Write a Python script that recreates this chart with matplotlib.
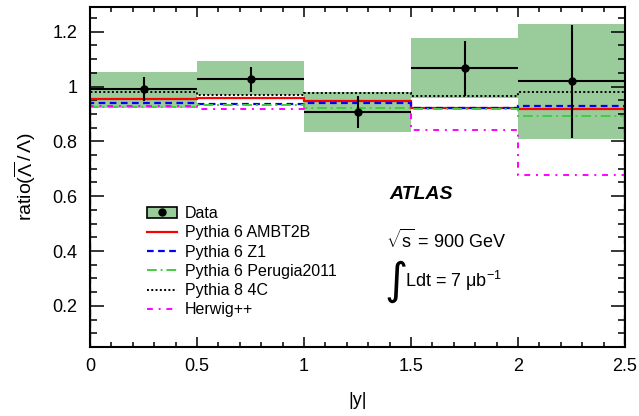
import matplotlib
matplotlib.use("Agg")
import matplotlib.pyplot as plt
from matplotlib.patches import Patch
from matplotlib.lines import Line2D
from matplotlib.ticker import MultipleLocator

plt.rcParams['font.family'] = ['Liberation Sans', 'DejaVu Sans']
plt.rcParams['mathtext.fontset'] = 'custom'
plt.rcParams['mathtext.rm'] = 'Liberation Sans'
plt.rcParams['mathtext.it'] = 'Liberation Sans:italic'
plt.rcParams['mathtext.default'] = 'regular'

# ---- data ----
bin_edges = [0.0, 0.5, 1.0, 1.5, 2.0, 2.5]
bin_centers = [0.25, 0.75, 1.25, 1.75, 2.25]
data_ratio = [0.990, 1.026, 0.908, 1.066, 1.019]
stat_err = [0.044, 0.047, 0.059, 0.100, 0.205]
syst_lo = [0.920, 0.969, 0.835, 0.957, 0.808]
syst_hi = [1.052, 1.093, 0.981, 1.178, 1.228]

pythia6_ambt2b = [0.954, 0.957, 0.948, 0.923, 0.919]
pythia6_z1 = [0.941, 0.936, 0.941, 0.920, 0.928]
pythia6_perugia2011 = [0.926, 0.933, 0.920, 0.918, 0.891]
pythia8_4c = [0.981, 0.969, 0.977, 0.965, 0.979]
herwigpp = [0.929, 0.918, 0.906, 0.842, 0.678]

labels = ["Data", "Pythia 6 AMBT2B", "Pythia 6 Z1", "Pythia 6 Perugia2011",
          "Pythia 8 4C", "Herwig++"]

band_color = '#9acb9a'

fig = plt.figure(figsize=(6.39, 4.16), dpi=100)
ax = fig.add_axes([90/639, 69/416, 535/639, 340/416])

# systematic boxes
widths = [bin_edges[i+1] - bin_edges[i] for i in range(len(bin_centers))]
heights = [h - l for h, l in zip(syst_hi, syst_lo)]
ax.bar(bin_edges[:-1], heights, width=widths, bottom=syst_lo, align='edge',
       color=band_color, edgecolor='none', zorder=1)

# MC predictions
mc_styles = [
    (pythia6_ambt2b, 'red', '-', 1.6),
    (pythia6_z1, 'blue', (0, (3, 2)), 1.6),
    (pythia6_perugia2011, '#44cc44', (0, (5, 2, 1, 2)), 1.4),
    (pythia8_4c, 'black', (0, (1, 1.2)), 1.4),
    (herwigpp, '#ff00ff', (0, (3, 3, 1, 3)), 1.4),
]
handles = []
for vals, col, ls, lw in mc_styles:
    ax.stairs(vals, bin_edges, color=col, linestyle=ls, linewidth=lw, zorder=2)
    handles.append(Line2D([], [], color=col, linestyle=ls, linewidth=lw))

# data
xerr = [w / 2 for w in widths]
ax.errorbar(bin_centers, data_ratio, yerr=stat_err, xerr=xerr, fmt='o',
            color='black', markersize=5, elinewidth=1.5, capsize=0, zorder=4)

data_handle = (Patch(facecolor=band_color, edgecolor='black', linewidth=1.2),
               Line2D([], [], marker='o', color='black', linestyle='none', markersize=5))
handles = [data_handle] + handles

leg = ax.legend(handles, labels, loc='upper left', bbox_to_anchor=(0.106, 0.415),
                frameon=False, fontsize=11.5, handlelength=1.9, handletextpad=0.5,
                labelspacing=0.27, borderaxespad=0, borderpad=0)

ax.set_xlim(0, 2.5)
ax.set_ylim(0.05, 1.29)
ax.xaxis.set_major_locator(MultipleLocator(0.5))
ax.xaxis.set_minor_locator(MultipleLocator(0.1))
ax.yaxis.set_major_locator(MultipleLocator(0.2))
ax.yaxis.set_minor_locator(MultipleLocator(0.05))
ax.set_xticks([0, 0.5, 1, 1.5, 2, 2.5])
ax.set_xticklabels(['0', '0.5', '1', '1.5', '2', '2.5'])
ax.set_yticks([0.2, 0.4, 0.6, 0.8, 1.0, 1.2])
ax.set_yticklabels(['0.2', '0.4', '0.6', '0.8', '1', '1.2'])

ax.tick_params(axis='both', which='both', direction='in', top=True, right=True,
               labelsize=13, width=1.1)
ax.tick_params(axis='x', which='major', length=7, pad=8)
ax.tick_params(axis='x', which='minor', length=3.5)
ax.tick_params(axis='y', which='major', length=10, pad=9)
ax.tick_params(axis='y', which='minor', length=5)
for s in ax.spines.values():
    s.set_linewidth(1.5)

ax.set_xlabel('|y|', fontsize=13, labelpad=12)
ax.set_ylabel(r'ratio($\overline{\Lambda}\,/\,\Lambda$)', fontsize=14, labelpad=10)

ax.text(1.40, 0.605, 'ATLAS', fontsize=14, fontweight='bold', fontstyle='italic',
        va='center', ha='left')
ax.text(1.385, 0.44, r'$\sqrt{s}$ = 900 GeV', fontsize=13, va='center', ha='left')
ax.text(1.375, 0.29, '\u222B', fontsize=32, va='center', ha='left',
        family=['DejaVu Sans'])
ax.text(1.47, 0.29, r'Ldt = 7 $\mu$b$^{-1}$', fontsize=13, va='center', ha='left')

fig.savefig('out.png', dpi=100)
